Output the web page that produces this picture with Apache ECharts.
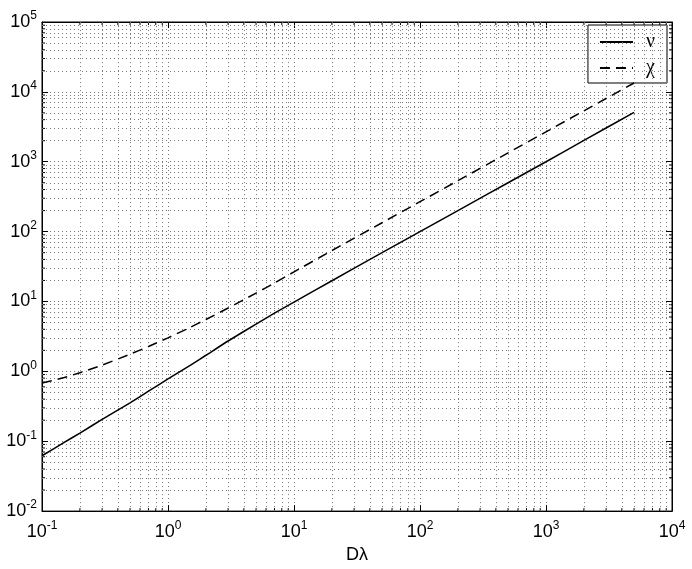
<!DOCTYPE html>
<html>
<head>
<meta charset="utf-8">
<script src="https://cdn.jsdelivr.net/npm/echarts@6/dist/echarts.min.js"></script>
<style>
  html, body { margin: 0; padding: 0; background: #fff; }
  #chart { width: 692px; height: 569px; }
</style>
</head>
<body>
<div id="chart"></div>
<script>
// D*lambda samples and the two curves
const dLambda = [0.1, 0.15, 0.2, 0.3, 0.5, 0.7, 1, 1.5, 2, 3, 5, 7, 10, 20, 50, 100, 200, 500, 1000, 2000, 5000];
const nuValues = [0.062, 0.096, 0.131, 0.205, 0.355, 0.52, 0.78, 1.22, 1.7, 2.72, 4.75, 6.8, 9.8, 19.8, 50, 100, 200, 500, 1000, 2020, 5100];
const chiValues = [0.68, 0.816, 0.956, 1.23, 1.76, 2.27, 3.02, 4.26, 5.53, 8.06, 13.2, 18.4, 26.5, 53.6, 134, 268, 536, 1340, 2680, 5360, 13400];

// decade exponents shown on the axes
const xTickExps = [-1, 0, 1, 2, 3, 4];
const yTickExps = [-2, -1, 0, 1, 2, 3, 4, 5];
const minorSteps = [2, 3, 4, 5, 6, 7, 8, 9];

const xMin = 0.1, xMax = 10000, yMin = 0.01, yMax = 100000;

function minorValues(exps) {
  const out = [];
  exps.slice(0, -1).forEach(e => {
    minorSteps.forEach(m => out.push(m * Math.pow(10, e)));
  });
  return out;
}
const xMinor = minorValues(xTickExps);
const yMinor = minorValues(yTickExps);

const font = 'Liberation Sans, Arial, Helvetica, sans-serif';
const dotted = { type: [1, 3], color: '#777', width: 1 };

function powLabel(v) {
  const e = Math.round(Math.log10(v));
  return '{b|10}{s|' + e + '}';
}
const labelRich = {
  b: { fontSize: 18, fontFamily: font, color: '#000' },
  s: { fontSize: 12, fontFamily: font, color: '#000', padding: [0, 0, 12, 0] }
};

function logAxis(pos, min, max, main) {
  return {
    type: 'log',
    logBase: 10,
    position: pos,
    min: min,
    max: max,
    interval: 1,
    axisLine: { show: true, onZero: false, lineStyle: { color: '#000', width: 1 } },
    axisTick: { show: true, inside: true, length: 6, lineStyle: { color: '#000' } },
    minorTick: { show: false },
    axisLabel: main ? {
      show: true, formatter: powLabel, rich: labelRich,
      margin: pos === 'bottom' ? 9 : 5
    } : { show: false },
    splitLine: { show: main, lineStyle: dotted }
  };
}

const xAxis0 = logAxis('bottom', xMin, xMax, true);
xAxis0.name = 'D\u03bb';
xAxis0.nameLocation = 'middle';
xAxis0.nameGap = 26;
xAxis0.nameTextStyle = { fontSize: 18, fontFamily: font, color: '#000', verticalAlign: 'top' };

const chart = echarts.init(document.getElementById('chart'));
chart.setOption({
  animation: false,
  backgroundColor: '#fff',
  grid: { left: 42, right: 20, top: 22, bottom: 50, show: true, borderColor: '#000', borderWidth: 1, backgroundColor: 'transparent' },
  legend: {
    orient: 'vertical',
    right: 25,
    top: 25,
    backgroundColor: '#fff',
    borderColor: '#000',
    borderWidth: 1,
    borderRadius: 0,
    padding: [7, 12, 5, 11],
    itemWidth: 33,
    itemHeight: 14,
    itemGap: 6,
    itemStyle: { opacity: 0 },
    data: ['\u03bd', '\u03c7'],
    textStyle: { fontSize: 20, fontFamily: 'Liberation Serif, Times New Roman, serif', color: '#000', padding: [0, 0, 0, 8] }
  },
  xAxis: [xAxis0, logAxis('top', xMin, xMax, false)],
  yAxis: [logAxis('left', yMin, yMax, true), logAxis('right', yMin, yMax, false)],
  series: [
    {
      name: 'grid',
      type: 'line',
      data: [],
      silent: true,
      z: 1,
      markLine: {
        silent: true,
        symbol: ['none', 'none'],
        label: { show: false },
        lineStyle: dotted,
        animation: false,
        data: xMinor.map(v => ({ xAxis: v })).concat(yMinor.map(v => ({ yAxis: v })))
      }
    },
    {
      name: 'minorTicksX',
      type: 'custom',
      silent: true,
      z: 3,
      data: xMinor.map(v => [v, yMin]),
      renderItem: function (params, api) {
        const v = api.value(0);
        const b = api.coord([v, yMin]);
        const t = api.coord([v, yMax]);
        const s = { stroke: '#000', lineWidth: 1 };
        return { type: 'group', children: [
          { type: 'line', shape: { x1: b[0], y1: b[1], x2: b[0], y2: b[1] - 3 }, style: s },
          { type: 'line', shape: { x1: t[0], y1: t[1], x2: t[0], y2: t[1] + 3 }, style: s }
        ] };
      }
    },
    {
      name: 'minorTicksY',
      type: 'custom',
      silent: true,
      z: 3,
      data: yMinor.map(v => [xMin, v]),
      renderItem: function (params, api) {
        const v = api.value(1);
        const l = api.coord([xMin, v]);
        const r = api.coord([xMax, v]);
        const s = { stroke: '#000', lineWidth: 1 };
        return { type: 'group', children: [
          { type: 'line', shape: { x1: l[0], y1: l[1], x2: l[0] + 3, y2: l[1] }, style: s },
          { type: 'line', shape: { x1: r[0], y1: r[1], x2: r[0] - 3, y2: r[1] }, style: s }
        ] };
      }
    },
    {
      name: '\u03bd',
      type: 'line',
      smooth: 0.2,
      showSymbol: false,
      symbol: 'none',
      z: 5,
      data: dLambda.map((x, i) => [x, nuValues[i]]),
      lineStyle: { color: '#000', width: 1.5, type: 'solid' },
      itemStyle: { color: '#000' }
    },
    {
      name: '\u03c7',
      type: 'line',
      smooth: 0.2,
      showSymbol: false,
      symbol: 'none',
      z: 5,
      data: dLambda.map((x, i) => [x, chiValues[i]]),
      lineStyle: { color: '#000', width: 1.5, type: [10, 6] },
      itemStyle: { color: '#000' }
    }
  ]
});
</script>
</body>
</html>
